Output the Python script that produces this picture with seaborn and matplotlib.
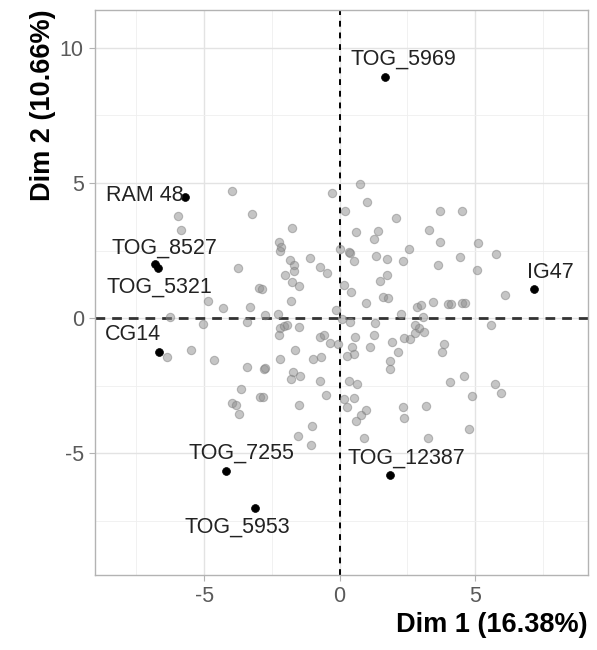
import matplotlib
matplotlib.use("Agg")
import matplotlib.pyplot as plt
import seaborn as sns
import pandas as pd

# ---- data ----
grey_x = [-5.97, -5.86, -3.98, -3.24, -3.75, -4.84, -4.29, -3.30, -2.99, -6.25, -5.05, -3.42,
          0.76, -0.28, 1.03, 0.21, 2.08, -1.76, 0.62, 1.42, 1.28, -2.25, -2.16, -2.19, 0.0, 0.37, 0.33,
          0.52, 1.36, 1.75, 2.34, 2.57, -1.82, -1.70, -1.67, -2.01, -1.11, -0.71, -0.47, -1.77, -1.48,
          -2.87, 0.18, 0.43, 1.50, 1.75, 1.60, 1.77, 0.98, -1.78, -0.12, -2.74, -2.29, 0.09, 0.37, 1.32,
          2.28, 2.86,
          3.72, 4.50, 3.29, 3.72, 5.11, 4.43, 5.79, 3.63, 5.08, 6.10, 3.02, 3.45, 4.00, 4.13, 4.52, 4.64,
          3.08, 5.57,
          -6.38, -5.49, -4.65, -3.42, -3.63, -3.98, -3.83, -3.71, -2.93,
          -2.19, -2.07, -1.94, -2.25, -1.51, -0.71, -0.57, -0.34, -0.07, 0.58, 0.46, 0.54, 0.27, 1.28,
          1.11, 1.94, 2.39, 2.61, 2.80, 2.92, 2.16, -1.64, -2.19, -0.98, -0.68, -2.78, -2.74, -1.72,
          -1.80, -1.45, -0.74, 1.85, 1.85, 0.33, 0.64, -2.83, -1.48, -0.50, 0.18, 0.54, 0.27, 0.99,
          0.79, 0.62, -1.02, -1.54, -1.06, 0.91, 2.34, 2.36,
          3.10, 2.80, 3.84, 3.78, 4.58, 4.09, 5.75, 5.97, 4.89, 3.20, 4.79, 3.25]
grey_y = [3.76, 3.27, 4.71, 3.85, 1.85, 0.64, 0.39, 0.43, 1.11, 0.06, -0.21, -0.13,
          4.97, 4.63, 4.30, 3.95, 3.71, 3.33, 3.20, 3.24, 2.93, 2.80, 2.65, 2.49, 2.56, 2.41, 2.43,
          2.12, 2.31, 2.19, 2.12, 2.57, 2.16, 1.97, 1.73, 1.60, 2.22, 1.89, 1.67, 1.32, 1.20,
          1.09, 1.23, 0.96, 1.39, 1.58, 0.80, 0.74, 0.56, 0.62, 0.31, 0.12, 0.16, -0.03, -0.15, -0.19,
          0.16, 0.43,
          3.95, 3.97, 3.27, 2.80, 2.78, 2.26, 2.38, 1.95, 1.79, 0.84, 0.47, 0.59, 0.53, 0.53, 0.56, 0.56,
          0.06, -0.25,
          -1.42, -1.17, -1.54, -1.82, -2.63, -3.12, -3.21, -3.54, -2.90,
          -0.37, -0.27, -0.25, -0.62, -0.31, -0.68, -0.62, -0.90, -0.96, -0.68, -1.05, -1.33, -1.40, -0.62,
          -1.05, -0.87, -0.74, -0.78, -0.56, -0.37, -1.24, -1.17, -1.52, -1.52, -1.44, -1.88, -1.85, -1.98,
          -2.26, -2.14, -2.32, -1.57, -1.88, -2.31, -2.43, -2.93, -3.19, -2.84, -3.00, -2.96, -3.27, -3.40,
          -3.58, -3.79, -3.98, -4.35, -4.69, -4.42, -3.30, -3.67,
          -0.50, -0.25, -0.96, -1.24, -2.13, -2.37, -2.43, -2.78, -2.87, -3.25, -4.11, -4.42]

lab_names = ["TOG_5969", "RAM 48", "TOG_8527", "TOG_5321", "CG14", "IG47",
             "TOG_7255", "TOG_5953", "TOG_12387"]
lab_x = [1.69, -5.70, -6.81, -6.69, -6.66, 7.19, -4.19, -3.14, 1.87]
lab_y = [8.90, 4.47, 2.00, 1.87, -1.26, 1.07, -5.64, -7.01, -5.80]

x_title = "Dim 1 (16.38%)"
y_title = "Dim 2 (10.66%)"
x_ticks = [-5, 0, 5]
y_ticks = [-5, 0, 5, 10]

# label offsets in pixels (dx right, dy down) - styling
label_offsets_px = {
    "TOG_5969": (18, -18), "RAM 48": (-40, -2), "TOG_8527": (9, -16),
    "TOG_5321": (1, 20), "CG14": (-26, -18), "IG47": (16, -17),
    "TOG_7255": (15, -18), "TOG_5953": (-17, 19), "TOG_12387": (16, -17),
}

grey_df = pd.DataFrame({"x": grey_x, "y": grey_y})
lab_df = pd.DataFrame({"name": lab_names, "x": lab_x, "y": lab_y})

sns.set_theme(style="white")
plt.rcParams["font.family"] = ["Liberation Sans", "DejaVu Sans"]
plt.rcParams["axes.unicode_minus"] = False

fig = plt.figure(figsize=(5.97, 6.5), dpi=100)
ax = fig.add_axes([0.159, 0.115, 0.826, 0.870])

# grid (theme_light)
ax.set_xlim(-9.03, 9.17)
ax.set_ylim(-9.5, 11.4)
ax.set_xticks(x_ticks)
ax.set_yticks(y_ticks)
ax.set_xticks([-7.5, -2.5, 2.5, 7.5], minor=True)
ax.set_yticks([-7.5, -2.5, 2.5, 7.5], minor=True)
ax.grid(True, which="major", color="#e3e3e3", linewidth=1.0)
ax.grid(True, which="minor", color="#efefef", linewidth=0.6)
ax.set_axisbelow(True)

ax.axhline(0, color="#333333", linestyle=(0, (3.5, 2.5)), linewidth=2.0, zorder=1)
ax.axvline(0, color="black", linestyle=(0, (3, 3)), linewidth=1.4, zorder=1)

sns.scatterplot(data=grey_df, x="x", y="y", ax=ax, color="#8c8c8c", alpha=0.5,
                s=36, edgecolor="#808080", linewidth=0.8, zorder=3)
sns.scatterplot(data=lab_df, x="x", y="y", ax=ax, color="black", s=32,
                edgecolor="black", linewidth=0.5, zorder=4)

for n, x, y in zip(lab_names, lab_x, lab_y):
    dx, dy = label_offsets_px[n]
    ax.annotate(n, (x, y), xytext=(dx * 0.72, -dy * 0.72), textcoords="offset points",
                ha="center", va="center", fontsize=15.5, color="#222222", zorder=5)

for s in ax.spines.values():
    s.set_color("#b3b3b3")
    s.set_linewidth(1.0)

ax.tick_params(axis="both", which="major", length=4, width=0.8, color="#b3b3b3",
               labelsize=15.5, labelcolor="#5a5a5a", pad=4, bottom=True, left=True)
ax.tick_params(axis="both", which="minor", length=0)

ax.set_xlabel(x_title, loc="right", fontsize=19.5, fontweight="bold", color="black", labelpad=3)
ax.set_ylabel(y_title, loc="top", fontsize=19.5, fontweight="bold", color="black", labelpad=3)

fig.savefig("out.png", dpi=100)
